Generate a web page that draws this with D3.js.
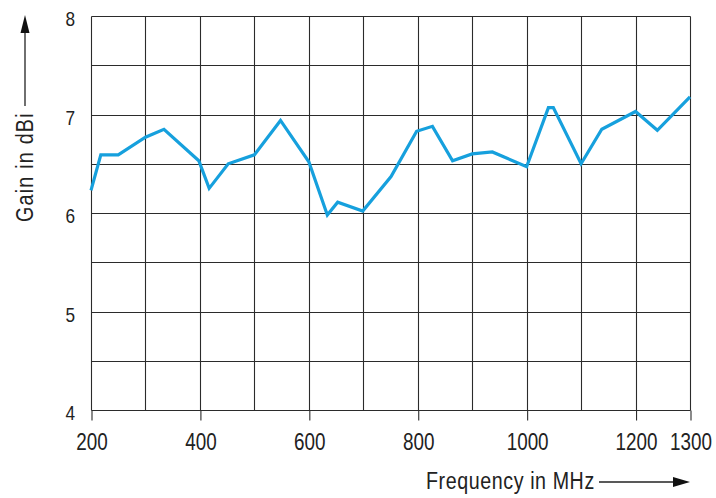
<!DOCTYPE html>
<html>
<head>
<meta charset="utf-8">
<script src="https://cdn.jsdelivr.net/npm/d3@7"></script>
<style>
  html, body { margin: 0; padding: 0; background: #fff; }
  svg { display: block; }
  text { font-family: "Liberation Sans", Arial, Helvetica, sans-serif; fill: #222; }
</style>
</head>
<body>
<script>
// Data
const frequency = [200, 218, 250, 300, 334, 398, 417, 452, 500, 548, 600, 634, 653, 699, 751, 798, 827, 864, 900, 937, 1000, 1040, 1049, 1100, 1138, 1200, 1240, 1300];
const gain      = [6.23, 6.59, 6.59, 6.77, 6.85, 6.53, 6.25, 6.50, 6.59, 6.94, 6.52, 5.98, 6.11, 6.02, 6.37, 6.83, 6.88, 6.53, 6.60, 6.62, 6.47, 7.07, 7.07, 6.50, 6.85, 7.03, 6.84, 7.18];
const xTickLabels = [200, 400, 600, 800, 1000, 1200, 1300];
const yTickLabels = [4, 5, 6, 7, 8];
const xGrid = [200, 300, 400, 500, 600, 700, 800, 900, 1000, 1100, 1200, 1300];
const yGrid = [4, 4.5, 5, 5.5, 6, 6.5, 7, 7.5, 8];
const xTitle = "Frequency in MHz";
const yTitle = "Gain in dBi";

(function () {
const W = 716, H = 498;
const mLeft = 91, mRight = 690, mTop = 16, mBottom = 410;
const SX = 0.82; // horizontal condensing of the font

const svg = d3.select("body").append("svg").attr("width", W).attr("height", H);

const x = d3.scaleLinear().domain([200, 1300]).range([mLeft, mRight]);
const y = d3.scaleLinear().domain([4, 8]).range([mBottom, mTop]);
const px = v => Math.round(v) + 0.5;

// Grid
const grid = svg.append("g").attr("stroke", "#2b2b2b").attr("stroke-width", 1.1);
grid.selectAll("line.v").data(xGrid).join("line").attr("class", "v")
  .attr("x1", d => px(x(d))).attr("x2", d => px(x(d)))
  .attr("y1", px(mTop)).attr("y2", px(mBottom));
grid.selectAll("line.h").data(yGrid).join("line").attr("class", "h")
  .attr("y1", d => px(y(d))).attr("y2", d => px(y(d)))
  .attr("x1", px(mLeft)).attr("x2", px(mRight));

// X axis ticks + labels
const xAxis = d3.axisBottom(x).tickValues(xTickLabels).tickSize(10).tickPadding(6).tickFormat(d3.format("d"));
const gx = svg.append("g").attr("transform", `translate(0.5,${px(mBottom)})`).call(xAxis);
gx.attr("font-family", null).attr("font-size", null);
gx.select(".domain").remove();
gx.selectAll(".tick line").attr("stroke", "#2b2b2b").attr("stroke-width", 1.1);
gx.selectAll(".tick text").attr("font-size", 23).attr("fill", "#222")
  .attr("x", 0).attr("y", 40).attr("dy", null)
  .attr("transform", `scale(${SX},1)`);

// Y axis labels
const yAxis = d3.axisLeft(y).tickValues(yTickLabels).tickSize(0).tickPadding(16).tickFormat(d3.format("d"));
const gy = svg.append("g").attr("transform", `translate(${mLeft},0)`).call(yAxis);
gy.attr("font-family", null).attr("font-size", null);
gy.select(".domain").remove();
gy.selectAll(".tick text").attr("font-size", 21).attr("fill", "#222")
  .attr("x", -16 / SX).attr("dy", null).attr("y", 9.5)
  .attr("transform", `scale(${SX},1)`);

// Data line
const line = d3.line().x(d => x(d[0])).y(d => y(d[1]));
svg.append("path")
  .datum(d3.zip(frequency, gain))
  .attr("d", line)
  .attr("fill", "none")
  .attr("stroke", "#16a0dd")
  .attr("stroke-width", 3.2)
  .attr("stroke-linejoin", "miter")
  .attr("stroke-linecap", "butt");

// X title with arrow
svg.append("text").attr("transform", `translate(426,488.5) scale(${SX},1)`).attr("font-size", 24)
  .attr("letter-spacing", "0.7px").text(xTitle);
svg.append("line").attr("x1", 599).attr("x2", 676).attr("y1", 482).attr("y2", 482)
  .attr("stroke", "#222").attr("stroke-width", 1.3);
svg.append("path").attr("d", "M673,477 L690,482 L673,487 Z").attr("fill", "#111");

// Y title with arrow
svg.append("text").attr("transform", `translate(32.5,222) rotate(-90) scale(${SX},1)`)
  .attr("font-size", 24).attr("letter-spacing", "1.5px").text(yTitle);
svg.append("line").attr("x1", 25).attr("x2", 25).attr("y1", 106).attr("y2", 30)
  .attr("stroke", "#222").attr("stroke-width", 1.3);
svg.append("path").attr("d", "M20.5,33 L25,15 L29.5,33 Z").attr("fill", "#111");
})();
</script>
</body>
</html>
